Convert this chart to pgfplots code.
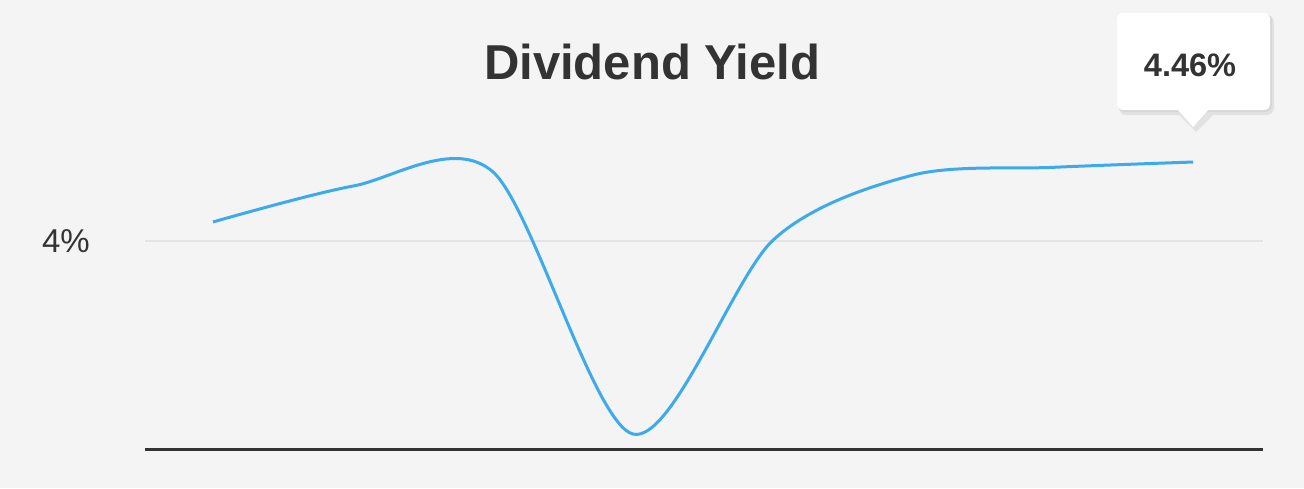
\documentclass[border=0pt]{standalone}
\usepackage{pgfplots}
\pgfplotsset{compat=1.18}
\usepackage{fontspec}
\setmainfont{Liberation Sans}
\definecolor{bg}{RGB}{244,244,244}
\definecolor{dark}{RGB}{51,51,51}
\definecolor{gridc}{RGB}{228,228,228}
\definecolor{lineblue}{RGB}{61,171,235}
\begin{document}
\begin{tikzpicture}[x=1pt,y=1pt]
\fill[bg] (0,0) rectangle (1304,488);
\node[font=\bfseries\fontsize{49}{52}\selectfont, text=dark] at (652,426) {Dividend Yield};
\begin{axis}[
  at={(145pt,39pt)}, anchor=south west,
  scale only axis, width=1118pt, height=328.2pt,
  xmin=-0.486, xmax=7.5, ymin=2.789, ymax=4.70,
  clip=false,
  axis x line*=bottom, axis y line*=left,
  y axis line style={draw=none},
  x axis line style={line width=3pt, draw=dark, -},
  xtick=\empty, ytick={4}, yticklabels={4\%},
  ymajorgrids, major grid style={line width=2pt, draw=gridc},
  major tick length=0pt,
  yticklabel style={font=\fontsize{33}{36}\selectfont, text=dark, anchor=east, inner sep=0pt, xshift=-55pt},
]
\addplot[lineblue, line width=3pt, smooth, tension=0.5, no markers] coordinates {
  (0,4.111) (1,4.320) (2,4.402) (3,2.876) (4,4.005) (5,4.384) (6,4.429) (7,4.46)
};
% tooltip
\fill[black, opacity=0.07, rounded corners=7pt] ([shift={(-74pt,47pt)}]axis cs:7,4.46) rectangle ([shift={(81pt,147pt)}]axis cs:7,4.46);
\fill[black, opacity=0.07] ([shift={(-14pt,47pt)}]axis cs:7,4.46) -- ([shift={(3pt,30pt)}]axis cs:7,4.46) -- ([shift={(20pt,47pt)}]axis cs:7,4.46) -- cycle;
\fill[black, opacity=0.05, rounded corners=7pt] ([shift={(-75pt,50pt)}]axis cs:7,4.46) rectangle ([shift={(79pt,148pt)}]axis cs:7,4.46);
\fill[white, rounded corners=6pt] ([shift={(-76pt,52pt)}]axis cs:7,4.46) rectangle ([shift={(77pt,149pt)}]axis cs:7,4.46);
\fill[white] ([shift={(-16pt,53pt)}]axis cs:7,4.46) -- ([shift={(0pt,35pt)}]axis cs:7,4.46) -- ([shift={(16pt,53pt)}]axis cs:7,4.46) -- cycle;
\node[font=\bfseries\fontsize{32.5}{35}\selectfont, text=dark] at ([shift={(-3pt,97pt)}]axis cs:7,4.46) {4.46\%};
\end{axis}
\end{tikzpicture}
\end{document}
